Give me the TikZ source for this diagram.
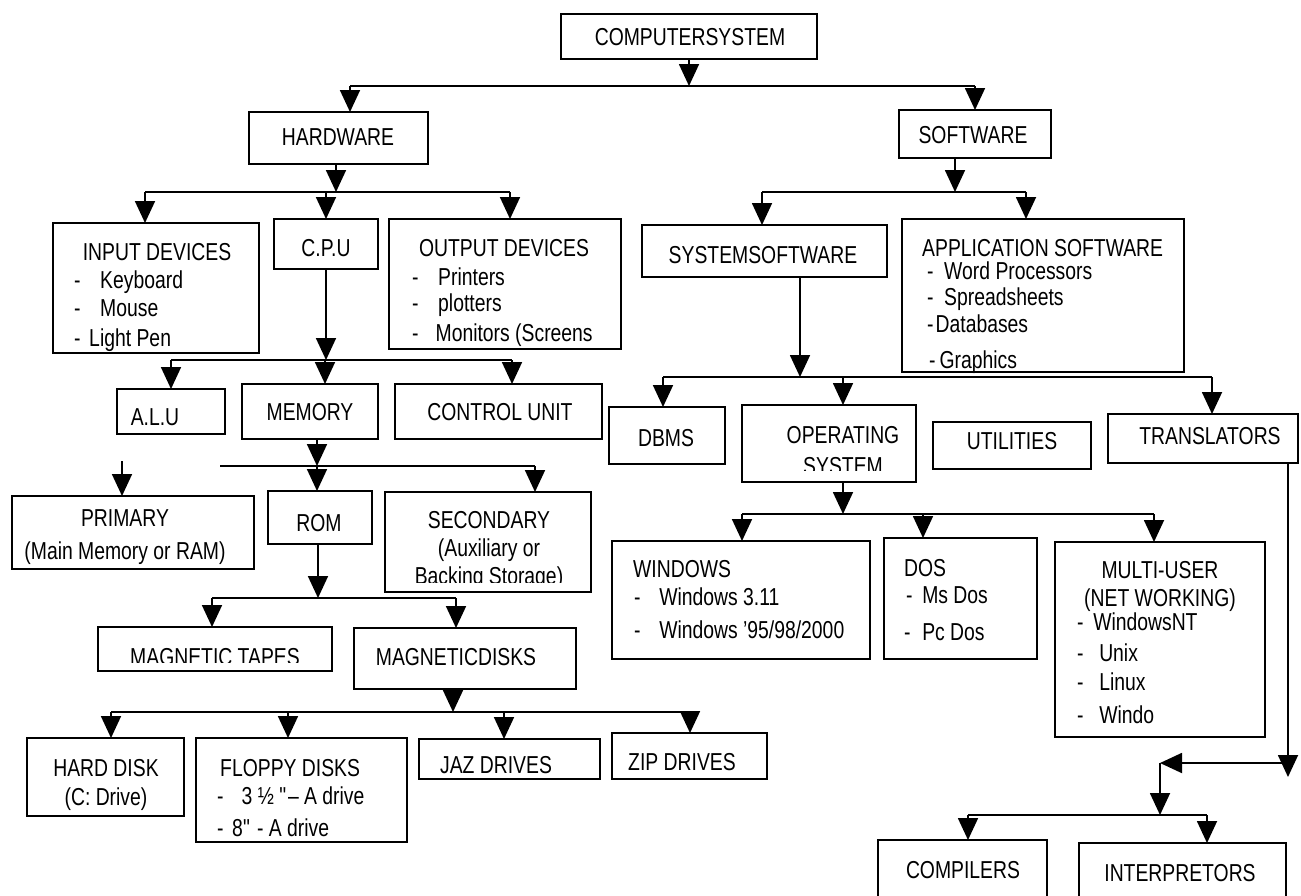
\documentclass[tikz,border=0pt]{standalone}
\usepackage{fontspec}
\setmainfont[FakeStretch=0.79]{Liberation Sans}
\usetikzlibrary{arrows.meta}
\tikzset{
  box/.style={draw, line width=1.8pt, inner sep=0pt, outer sep=0pt},
  txt/.style={inner sep=0pt, anchor=base, font=\fontsize{24.5}{28}\selectfont},
  ltxt/.style={txt, anchor=base west},
  arr/.style={line width=1.8pt, -{Triangle[width=20pt,length=22pt]}},
  ln/.style={line width=1.8pt},
}
\newcommand\bx[5]{\node[box, minimum width={#4-#2}, minimum height={#5-#3}] (#1) at ({(#2+#4)/2},{(#3+#5)/2}) {};}
\newcommand\itm[2]{-\hspace{#1pt}#2}
\begin{document}
\begin{tikzpicture}[x=1pt,y=-1pt]
\useasboundingbox (0,0) rectangle (1301,895);
\clip (0,0) rectangle (1301,895);
\fill[white] (0,0) rectangle (1301,895);

% ---------- boxes ----------
\bx{cs}{561}{14}{817}{59}
\bx{hw}{249}{112}{428}{164}
\bx{sw}{899}{110}{1051}{158}
\bx{inp}{53}{223}{259}{353}
\bx{cpu}{274}{219}{378}{269}
\bx{out}{389}{219}{621}{349}
\bx{alu}{117}{389}{225}{434}
\bx{mem}{242}{384}{378}{439}
\bx{cu}{395}{384}{602}{439}
\bx{pri}{12}{496}{254}{569}
\bx{rom}{268}{491}{372}{544}
\bx{sec}{385}{492}{591}{592}
\bx{mt}{98}{627}{332}{671}
\bx{md}{354}{628}{576}{689}
\bx{hd}{27}{738}{184}{816}
\bx{fd}{196}{738}{407}{842}
\bx{jaz}{419}{739}{600}{779}
\bx{zip}{612}{733}{767}{779}
\bx{ssw}{642}{225}{887}{277}
\bx{app}{902}{219}{1184}{372}
\bx{dbms}{609}{407}{725}{464}
\bx{os}{742}{405}{916}{482}
\bx{ut}{933}{422}{1091}{469}
\bx{tr}{1108}{414}{1298}{463}
\bx{win}{612}{541}{870}{659}
\bx{dos}{884}{538}{1037}{659}
\bx{mu}{1055}{542}{1265}{737}
\bx{comp}{878}{840}{1047}{915}
\bx{intp}{1079}{843}{1286}{915}

% ---------- texts ----------
\node[txt] (tcs) at (690,45) {COMPUTERSYSTEM};
\node[txt] (thw) at (338,145) {HARDWARE};
\node[txt] (tsw) at (973,143) {SOFTWARE};

\node[txt] (tinp) at (157,260) {INPUT DEVICES};
\node[ltxt] (tinp1) at (74,288) {\itm{19.6}{Keyboard}};
\node[ltxt] (tinp2) at (74,316) {\itm{19.6}{Mouse}};
\node[ltxt] (tinp3) at (74,346) {\itm{8.6}{Light Pen}};
\node[txt] (tcpu) at (326,256) {C.P.U};
\node[txt] (tout) at (504,256) {OUTPUT DEVICES};
\node[ltxt] (tout1) at (412,285) {\itm{19.6}{Printers}};
\node[ltxt] (tout2) at (412,311) {\itm{19.6}{plotters}};
\node[ltxt] (tout3) at (412,341) {\itm{17}{Monitors (Screens}};

\node[txt] (talu) at (155,425) {A.L.U};
\node[txt] (tmem) at (310,420) {MEMORY};
\node[txt] (tcu) at (500,420) {CONTROL UNIT};

\node[txt] (tpri) at (125,526) {PRIMARY};
\node[txt] (tpri2) at (125,559) {(Main Memory or RAM)};
\node[txt] (trom) at (319,531) {ROM};
\node[txt] (tsec) at (489,528) {SECONDARY};
\node[txt] (tsec2) at (489,556) {(Auxiliary or};
\begin{scope}
\clip (sec.north west) rectangle ([yshift=10pt]sec.south east);
\node[txt] (tsec3) at (489,584) {Backing Storage)};
\end{scope}
\begin{scope}
\clip (mt.north west) rectangle ([yshift=9pt]mt.south east);
\node[txt] (tmt) at (215,665) {MAGNETIC TAPES};
\end{scope}
\node[txt] (tmd) at (456,665) {MAGNETICDISKS};

\node[txt] (thd) at (106,776) {HARD DISK};
\node[txt] (thd2) at (106,805) {(C: Drive)};
\node[ltxt] (tfd) at (220,776) {FLOPPY DISKS};
\node[ltxt] (tfd1) at (217,804) {\itm{18}{3 ½ \textquotedbl– A drive}};
\node[ltxt] (tfd2) at (217,836) {\itm{8.6}{8\textquotedbl\ - A drive}};
\node[txt] (tjaz) at (496,773) {JAZ DRIVES};
\node[txt] (tzip) at (682,770) {ZIP DRIVES};

\node[txt] (tssw) at (763,263) {SYSTEMSOFTWARE};
\node[ltxt] (tapp) at (922,256) {APPLICATION SOFTWARE};
\node[ltxt] (tapp1) at (927,279) {\itm{10.6}{Word Processors}};
\node[ltxt] (tapp2) at (927,305) {\itm{10.6}{Spreadsheets}};
\node[ltxt] (tapp3) at (927,332) {\itm{2}{Databases}};
\node[ltxt] (tapp4) at (929,368) {\itm{4}{Graphics}};

\node[txt] (tdbms) at (666,446) {DBMS};
\node[txt] (tos) at (843,443) {OPERATING};
\begin{scope}
\clip (os.north west) rectangle ([yshift=12pt]os.south east);
\node[txt] (tos2) at (843,474) {SYSTEM};
\end{scope}
\node[txt] (tut) at (1012,449) {UTILITIES};
\node[txt] (ttr) at (1210,444) {TRANSLATORS};

\node[ltxt] (twin) at (633,577) {WINDOWS};
\node[ltxt] (twin1) at (634,605) {\itm{18.6}{Windows 3.11}};
\node[ltxt] (twin2) at (634,638) {\itm{18.6}{Windows '95/98/2000}};
\node[ltxt] (tdos) at (904,576) {DOS};
\node[ltxt] (tdos1) at (906,603) {\itm{9.6}{Ms Dos}};
\node[ltxt] (tdos2) at (904,640) {\itm{11.6}{Pc Dos}};
\node[txt] (tmu) at (1160,578) {MULTI-USER};
\node[txt] (tmu2) at (1160,606) {(NET WORKING)};
\node[ltxt] (tmu3) at (1077,630) {\itm{9.6}{WindowsNT}};
\node[ltxt] (tmu4) at (1077,661) {\itm{15.6}{Unix}};
\node[ltxt] (tmu5) at (1077,690) {\itm{15.6}{Linux}};
\node[ltxt] (tmu6) at (1077,723) {\itm{15.6}{Windo}};

\node[txt] (tcomp) at (963,878) {COMPILERS};
\node[txt] (tintp) at (1180,881) {INTERPRETORS};

% ---------- connectors ----------
% computer system
\coordinate (b1l) at (350,86); \coordinate (b1r) at (975,86);
\draw[ln] (b1l) -- (b1r);
\draw[arr] (cs.south) -- (cs.south |- b1l);
\draw[arr] (b1l) -- (b1l |- hw.north);
\draw[arr] (b1r) -- (b1r |- sw.north);
% hardware
\coordinate (b2l) at (145,192); \coordinate (b2r) at (510,192); \coordinate (b2m) at (336,192);
\draw[ln] (b2l) -- (b2r);
\draw[arr] (b2m |- hw.south) -- (b2m);
\draw[arr] (b2l) -- (b2l |- inp.north);
\draw[arr] (cpu.north |- b2l) -- (cpu.north);
\draw[arr] (b2r) -- (b2r |- out.north);
% cpu
\coordinate (b3l) at (171,360); \coordinate (b3r) at (512,360); \coordinate (b3m) at (325,360);
\draw[ln] (b3l) -- (b3r);
\draw[arr] (cpu.south) -- (cpu.south |- b3l);
\draw[arr] (b3l) -- (b3l |- alu.north);
\draw[arr] (b3m) -- (b3m |- mem.north);
\draw[arr] (b3r) -- (b3r |- cu.north);
% memory
\coordinate (b4l) at (220,466); \coordinate (b4r) at (535,466); \coordinate (b4m) at (317,466);
\draw[ln] (b4l) -- (b4r);
\draw[arr] (b4m |- mem.south) -- (b4m);
\draw[arr] (b4m) -- (b4m |- rom.north);
\draw[arr] (b4r) -- (b4r |- sec.north);
\coordinate (pa) at (122,461);
\draw[arr] (pa) -- (pa |- pri.north);
% rom
\coordinate (b5l) at (212,598); \coordinate (b5r) at (456,598); \coordinate (b5m) at (318,598);
\draw[ln] (b5l) -- (b5r);
\draw[arr] (b5m |- rom.south) -- (b5m);
\draw[arr] (b5l) -- (b5l |- mt.north);
\draw[arr] (b5r) -- (b5r |- md.north);
% magnetic disks
\coordinate (b6l) at (111,712); \coordinate (b6r) at (690,712); \coordinate (b6m) at (453,712);
\coordinate (b6f) at (288,712); \coordinate (b6j) at (504,712);
\draw[ln] (b6l) -- (b6r);
\draw[arr] (b6m |- md.south) -- (b6m);
\draw[arr] (b6l) -- (b6l |- hd.north);
\draw[arr] (b6f) -- (b6f |- fd.north);
\draw[arr] (b6j) -- (b6j |- jaz.north);
\draw[arr] (b6r) -- (b6r |- zip.north);
% software
\coordinate (s1l) at (762,192); \coordinate (s1r) at (1026,192); \coordinate (s1m) at (955,192);
\draw[ln] (s1l) -- (s1r);
\draw[arr] (s1m |- sw.south) -- (s1m);
\draw[arr] (s1l) -- (s1l |- ssw.north);
\draw[arr] (s1r) -- (s1r |- app.north);
% system software
\coordinate (s2l) at (663,377); \coordinate (s2r) at (1212,377); \coordinate (s2m) at (800,377); \coordinate (s2o) at (843,377);
\draw[ln] (s2l) -- (s2r);
\draw[arr] (s2m |- ssw.south) -- (s2m);
\draw[arr] (s2l) -- (s2l |- dbms.north);
\draw[arr] (s2o) -- (s2o |- os.north);
\draw[arr] (s2r) -- (s2r |- tr.north);
% operating system
\coordinate (s3l) at (742,514); \coordinate (s3r) at (1154,514); \coordinate (s3m) at (923,514); \coordinate (s3s) at (843,514);
\draw[ln] (s3l) -- (s3r);
\draw[arr] (s3s |- os.south) -- (s3s);
\draw[arr] (s3l) -- (s3l |- win.north);
\draw[arr] (s3m) -- (s3m |- dos.north);
\draw[arr] (s3r) -- (s3r |- mu.north);
% translators
\coordinate (t0) at (1288,777); \coordinate (t1) at (1288,763); \coordinate (t2) at (1160,763); \coordinate (t3) at (1160,815);
\coordinate (t3l) at (968,815); \coordinate (t3r) at (1207,815);
\draw[arr] (t1 |- tr.south) -- (t0);
\draw[arr] (t1) -- (t2);
\draw[arr] (t2) -- (t3);
\draw[ln] (t3l) -- (t3r);
\draw[arr] (t3l) -- (t3l |- comp.north);
\draw[arr] (t3r) -- (t3r |- intp.north);
\end{tikzpicture}
\end{document}
